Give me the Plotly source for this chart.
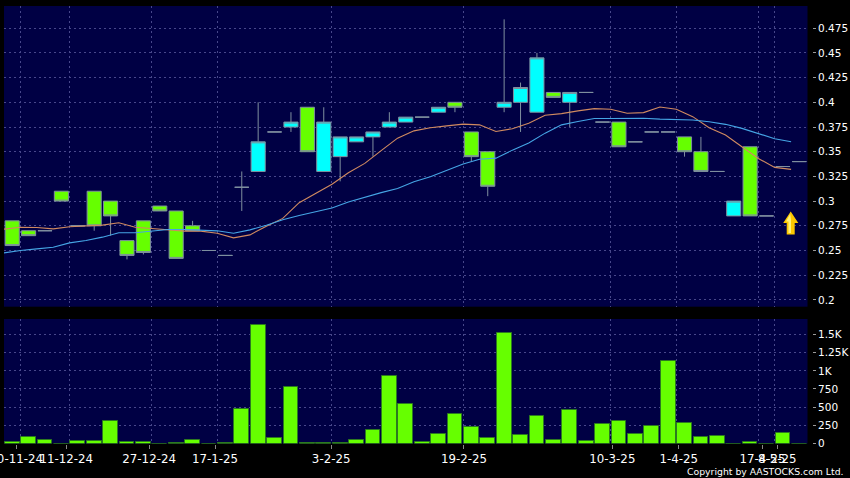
import plotly.graph_objects as go

W, H = 850, 478

# Daily candles (index = trading-day slot)
opens = [0.28,0.27,0.27,0.31,0.275,0.31,0.30,0.26,0.28,0.295,0.29,0.275,0.25,0.245,0.314,0.33,0.37,0.375,0.395,0.33,0.345,0.36,0.365,0.375,0.38,0.385,0.39,0.40,0.37,0.35,0.395,0.40,0.39,0.41,0.40,0.41,0.38,0.38,0.36,0.37,0.37,0.365,0.35,0.33,0.285,0.355,0.285,0.335,0.34]
closes = [0.255,0.265,0.27,0.30,0.275,0.275,0.285,0.245,0.248,0.29,0.242,0.27,0.25,0.245,0.314,0.36,0.37,0.38,0.35,0.38,0.365,0.365,0.37,0.38,0.385,0.385,0.395,0.395,0.345,0.315,0.40,0.415,0.445,0.405,0.41,0.41,0.38,0.355,0.36,0.37,0.37,0.35,0.33,0.33,0.30,0.285,0.285,0.335,0.34]
highs = [0.28,0.27,0.27,0.31,0.275,0.31,0.30,0.26,0.28,0.295,0.29,0.28,0.25,0.245,0.33,0.40,0.37,0.39,0.395,0.395,0.365,0.365,0.37,0.39,0.385,0.385,0.395,0.40,0.37,0.35,0.484,0.42,0.45,0.41,0.41,0.41,0.38,0.38,0.36,0.37,0.37,0.365,0.365,0.33,0.30,0.355,0.285,0.335,0.34]
lows = [0.255,0.265,0.27,0.30,0.275,0.27,0.265,0.241,0.246,0.29,0.242,0.27,0.25,0.245,0.29,0.33,0.37,0.37,0.35,0.33,0.32,0.36,0.345,0.375,0.38,0.385,0.39,0.39,0.34,0.305,0.39,0.37,0.39,0.405,0.375,0.41,0.38,0.355,0.36,0.37,0.37,0.345,0.33,0.33,0.285,0.285,0.285,0.335,0.34]
volumes = [14,96,50,0,28,32,312,14,14,0,5,46,0,10,472,1624,73,784,2,12,4,50,179,931,541,15,133,404,229,73,1514,115,381,55,459,32,266,316,128,243,1133,289,87,101,0,23,0,151,0]

# Moving averages, plotted half a slot to the left of each candle
ma_slow_orange = [.2716,.2736,.2733,.2719,.2740,.2750,.2757,.2780,.2736,.2723,.2706,.2696,.2696,.2675,.2628,.2658,.2746,.2825,.2984,.3076,.3171,.3287,.3382,.3511,.3637,.3711,.3742,.3762,.3779,.3772,.3705,.3733,.3789,.3869,.3886,.3913,.3936,.3930,.3889,.3896,.3952,.3930,.3855,.3743,.3669,.3550,.3432,.3341,.3321]
ma_blue = [.2476,.2500,.2516,.2533,.2577,.2601,.2635,.2679,.2679,.2692,.2712,.2712,.2702,.2699,.2675,.2709,.2755,.2811,.2855,.2889,.2930,.2991,.3042,.3086,.3127,.3195,.3246,.3314,.3375,.3423,.3435,.3516,.3588,.3688,.3772,.3806,.3836,.3836,.3836,.3839,.3830,.3828,.3821,.3804,.3777,.3736,.3686,.3632,.3601]

price_ticks = [0.2,0.225,0.25,0.275,0.3,0.325,0.35,0.375,0.4,0.425,0.45,0.475]
price_labels = ["0.2","0.225","0.25","0.275","0.3","0.325","0.35","0.375","0.4","0.425","0.45","0.475"]
vol_ticks = [0,250,500,750,1000,1250,1500]
vol_labels = ["0","250","500","750","1K","1.25K","1.5K"]

grid_slots = [0.5,3.5,8.5,12.5,19.5,27.5,36.5,40.5,45.5,46.5]
date_slots = [0.24,3.3,8.35,12.37,19.45,27.55,36.6,40.65,45.75,46.65]
date_labels = ["20-11-24","11-12-24","27-12-24","17-1-25","3-2-25","19-2-25","10-3-25","1-4-25","17-4-25","8-5-25"]

NAVY = "#000044"
GRID = "#47478a"
FONT = "DejaVu Sans"
slots = list(range(len(opens)))
ma_x = [s - 0.5 for s in slots]

fig = go.Figure()
fig.add_trace(go.Candlestick(
    x=slots, open=opens, high=highs, low=lows, close=closes,
    increasing=dict(fillcolor="#00FFFF", line=dict(color="#7f8f9f", width=1)),
    decreasing=dict(fillcolor="#66FF00", line=dict(color="#7f8f9f", width=1)),
    whiskerwidth=0, xaxis="x", yaxis="y", showlegend=False))
fig.add_trace(go.Scatter(x=ma_x, y=ma_slow_orange, mode="lines",
    line=dict(color="#d08a60", width=1.1), xaxis="x", yaxis="y", showlegend=False))
fig.add_trace(go.Scatter(x=ma_x, y=ma_blue, mode="lines",
    line=dict(color="#45a5e5", width=1.1), xaxis="x", yaxis="y", showlegend=False))
fig.add_trace(go.Bar(x=slots, y=volumes, width=0.9,
    marker=dict(color="#66FF00", line=dict(color="#2c7a20", width=1)),
    xaxis="x2", yaxis="y2", showlegend=False))
fig.add_trace(go.Scatter(x=[0], y=[None], mode="lines", xaxis="x3", yaxis="y2", showlegend=False))

xr = [-0.5, 48.5]
dom_x = [4/W, 807.5/W]
common_x = dict(range=xr, domain=dom_x, showgrid=True, griddash="2px,3px", gridcolor=GRID, gridwidth=1,
                tickvals=grid_slots, showticklabels=False, ticks="", zeroline=False, showline=False, fixedrange=True)

fig.update_layout(
    width=W, height=H, margin=dict(l=0, r=0, t=0, b=0, autoexpand=False),
    paper_bgcolor="#000000", plot_bgcolor=NAVY, showlegend=False, boxgap=0.14, boxgroupgap=0, bargap=0,
    font=dict(family=FONT, color="#ffffff", size=11),
    xaxis=dict(anchor="y", rangeslider=dict(visible=False), **common_x),
    xaxis2=dict(anchor="y2", **common_x),
    xaxis3=dict(overlaying="x2", anchor="y2", side="bottom", range=xr, domain=dom_x, showgrid=False,
                tickvals=date_slots, ticktext=date_labels, ticks="outside", ticklen=4, tickcolor="#888888",
                tickangle=0, automargin=False,
                tickfont=dict(family=FONT, size=11.8, color="#ffffff"), ticklabeloverflow="allow",
                zeroline=False, showline=False, fixedrange=True),
    yaxis=dict(domain=[1-306.7/H, 1-6/H], range=[0.1931, 0.4975], anchor="free", position=812/W, side="right",
               tickvals=price_ticks, ticktext=price_labels, ticks="outside", ticklen=3, tickcolor="#999999",
               tickfont=dict(family=FONT, size=10.5, color="#ffffff"), showgrid=True, griddash="2px,3px",
               gridcolor=GRID, zeroline=False, showline=False, fixedrange=True, automargin=False),
    yaxis2=dict(domain=[1-443.5/H, 1-319/H], range=[0, 1713], anchor="free", position=812/W, side="right",
                tickvals=vol_ticks, ticktext=vol_labels, ticks="outside", ticklen=3, tickcolor="#999999",
                tickfont=dict(family=FONT, size=10.5, color="#ffffff"), showgrid=True, griddash="2px,3px",
                gridcolor=GRID, zeroline=False, showline=False, fixedrange=True, automargin=False),
    annotations=[dict(text="Copyright by AASTOCKS.com Ltd.", xref="paper", yref="paper", x=846/W, y=1-471/H,
                      xanchor="right", yanchor="middle", showarrow=False,
                      font=dict(family=FONT, size=9.3, color="#ffffff"))],
    shapes=[
        dict(type="path", xref="paper", yref="paper", line=dict(width=0), fillcolor="#fcc800",
             path=f"M {790.7/W} {1-211.5/H} L {798.3/W} {1-223/H} L {794.7/W} {1-223/H} L {794.7/W} {1-234.5/H} "
                  f"L {786.7/W} {1-234.5/H} L {786.7/W} {1-223/H} L {783.2/W} {1-223/H} Z"),
        dict(type="path", xref="paper", yref="paper", line=dict(width=0), fillcolor="#fff27a",
             path=f"M {790.2/W} {1-214/H} L {786/W} {1-221.5/H} L {788.5/W} {1-221.5/H} L {788.5/W} {1-233/H} "
                  f"L {791/W} {1-233/H} L {791/W} {1-220/H} Z"),
    ],
)

fig.write_html("out.html", config=dict(displayModeBar=False),
               post_script="document.body.style.margin='0';document.body.style.background='#000';document.documentElement.style.overflow='hidden';")
